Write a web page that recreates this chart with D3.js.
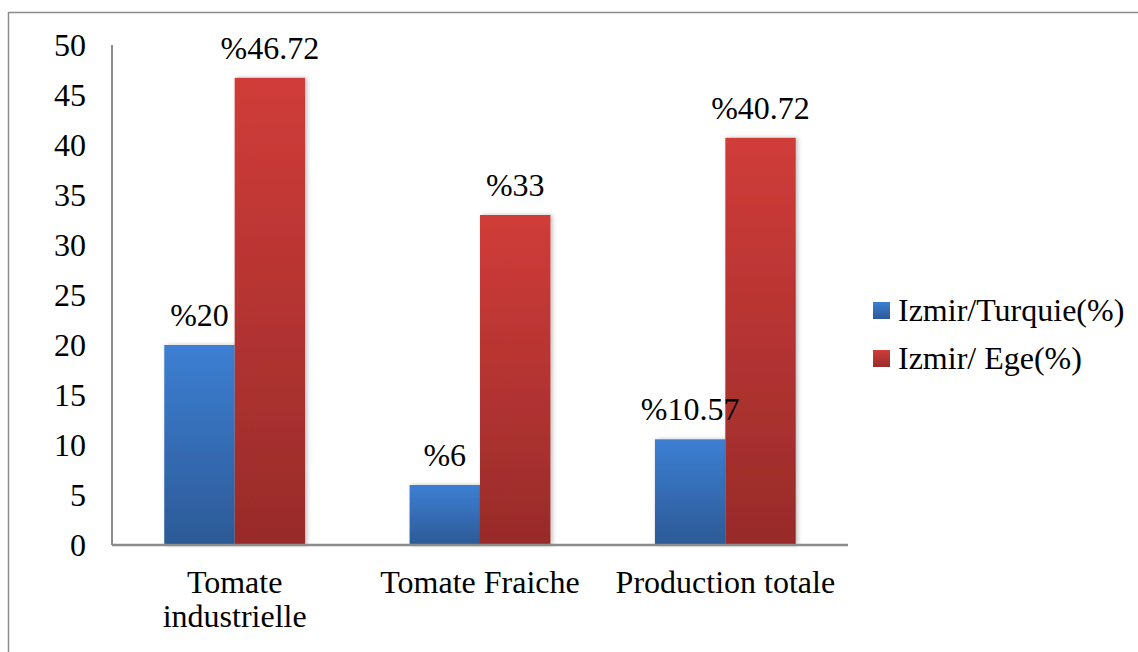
<!DOCTYPE html>
<html><head><meta charset="utf-8">
<script src="https://cdn.jsdelivr.net/npm/d3@7"></script>
<style>
html,body{margin:0;padding:0;background:#fff;overflow:hidden}
svg{display:block}
svg text{font-family:"Liberation Serif","Times New Roman",Times,"Tinos","DejaVu Serif",serif !important;fill:#000}
</style></head><body>
<svg id="c" width="1138" height="652"></svg>
<script>
const categories = [["Tomate","industrielle"],["Tomate Fraiche"],["Production totale"]];
const seriesNames = ["Izmir/Turquie(%)","Izmir/ Ege(%)"];
const turquieValues = [20, 6, 10.57];
const egeValues = [46.72, 33, 40.72];
const labelsTurquie = ["%20","%6","%10.57"];
const labelsEge = ["%46.72","%33","%40.72"];
const yTicks = [0,5,10,15,20,25,30,35,40,45,50];

const svg = d3.select("#c");
const FS = 32;
const defs = svg.append("defs");
function grad(id, top, bot){
  const g = defs.append("linearGradient").attr("id",id).attr("x1",0).attr("y1",0).attr("x2",0).attr("y2",1);
  g.append("stop").attr("offset","0%").attr("stop-color",top);
  g.append("stop").attr("offset","100%").attr("stop-color",bot);
}
grad("gb","#3d7fd3","#2c5a96");
grad("gr","#d03c39","#982b2a");
const f = defs.append("filter").attr("id","sh").attr("x","-20%").attr("y","-5%").attr("width","150%").attr("height","110%");
f.append("feDropShadow").attr("dx",2).attr("dy",0).attr("stdDeviation",2).attr("flood-color","#000").attr("flood-opacity",0.25);

// outer border
svg.append("rect").attr("x",8.5).attr("y",12.5).attr("width",1140).attr("height",660)
  .attr("fill","none").attr("stroke","#8c8c8c").attr("stroke-width",1.5);

const x0 = d3.scaleBand().domain(d3.range(categories.length)).range([112,848]).paddingInner(0.426).paddingOuter(0.213);
const x1 = d3.scaleBand().domain([0,1]).range([0,x0.bandwidth()]);
const y = d3.scaleLinear().domain([0,50]).range([545,45]);

const series = [
  {vals:turquieValues, labels:labelsTurquie, fill:"url(#gb)"},
  {vals:egeValues, labels:labelsEge, fill:"url(#gr)"}
];

series.forEach((s,si)=>{
  svg.append("g").selectAll("rect").data(s.vals).join("rect")
    .attr("x",(d,i)=>x0(i)+x1(si))
    .attr("width",x1.bandwidth())
    .attr("y",d=>y(d))
    .attr("height",d=>y(0)-y(d))
    .attr("fill",s.fill)
    .attr("filter","url(#sh)");
});
series.forEach((s,si)=>{
  svg.append("g").selectAll("text").data(s.vals).join("text")
    .attr("x",(d,i)=>x0(i)+x1(si)+x1.bandwidth()/2)
    .attr("y",d=>y(d)-19)
    .attr("text-anchor","middle")
    .attr("font-size",FS)
    .text((d,i)=>s.labels[i]);
});

const ya = svg.append("g").attr("transform","translate(112,0)")
  .call(d3.axisLeft(y).tickValues(yTicks).tickSize(0).tickPadding(26).tickFormat(d3.format("d")));
ya.attr("font-family",null);
ya.select(".domain").attr("stroke","#8c8c8c").attr("stroke-width",2).attr("d","M0,45V545");
ya.selectAll("text").attr("font-size",FS).attr("fill","#000").attr("dy","0.33em");

const xa = svg.append("g").attr("transform","translate(0,545)")
  .call(d3.axisBottom(x0).tickSize(0).tickFormat(""));
xa.attr("font-family",null);
xa.select(".domain").attr("stroke","#8c8c8c").attr("stroke-width",2.5).attr("d","M112,0H848");
xa.selectAll(".tick").each(function(d){
  const t = d3.select(this).append("text").attr("text-anchor","middle").attr("font-size",FS).attr("fill","#000");
  categories[d].forEach((line,li)=>{
    t.append("tspan").attr("x",0).attr("y",48+li*34).text(line);
  });
});

const lg = svg.append("g");
seriesNames.forEach((n,i)=>{
  const yy = 302 + i*48;
  lg.append("rect").attr("x",873).attr("y",yy).attr("width",17).attr("height",17).attr("fill",series[i].fill);
  lg.append("text").attr("x",898).attr("y",yy+19).attr("font-size",FS).text(n);
});
</script></body></html>
